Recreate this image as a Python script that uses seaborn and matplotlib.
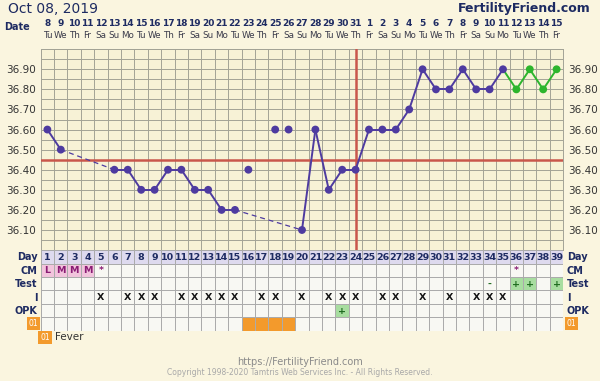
import numpy as np
import pandas as pd
import seaborn as sns
import matplotlib.pyplot as plt
from matplotlib.colors import ListedColormap

# cycle data (day 1 = Oct 8, 2019)
dates = pd.date_range("2019-10-08", periods=39)
date_nums = [str(d.day) for d in dates]
weekdays = [d.strftime("%a")[:2] for d in dates]
days = list(range(1, 40))

temps = [36.60, 36.50, None, None, None, 36.40, 36.40, 36.30, 36.30, 36.40,
         36.40, 36.30, 36.30, 36.20, 36.20, 36.40, None, 36.60, 36.60, 36.10,
         36.60, 36.30, 36.40, 36.40, 36.60, 36.60, 36.60, 36.70, 36.90, 36.80,
         36.80, 36.90, 36.80, 36.80, 36.90, 36.80, 36.90, 36.80, 36.90]
discarded = [16, 18, 19]
first_green = 36
cover_line = 36.45
ovulation_day = 24

cm = {1: "L", 2: "M", 3: "M", 4: "M", 5: "*", 36: "*"}
test = {34: "-", 36: "+", 37: "+", 39: "+"}
intercourse = [5, 7, 8, 9, 11, 12, 13, 14, 15, 17, 18, 20, 22, 23, 24, 26, 27,
               29, 31, 33, 34, 35]
opk = {23: "+"}
fever = [16, 17, 18, 19]
row_labels = ["Day", "CM", "Test", "I", "OPK"]

bg = "#FAF5DF"
navy = "#1E2B62"
purple = "#4E3BA0"
green = "#2DB52D"
red = "#C9574C"

sns.set_theme(style="white")
plt.rcParams["font.family"] = ["DejaVu Sans"]

fig = plt.figure(figsize=(6, 3.81), dpi=100, facecolor=bg)

# ---- temperature chart ----
ax = fig.add_axes([0.0678, 0.3436, 0.8710, 0.5273])
ax.set_facecolor("#F7F2D6")
ax.set_xlim(0.5, 39.5)
ax.set_ylim(36.0, 37.0)
ax.set_xticks(np.arange(0.5, 40, 1))
ax.set_yticks(np.arange(36.1, 36.95, 0.1))
ax.set_yticks(np.arange(36.0, 37.01, 0.05), minor=True)
ax.set_yticklabels([f"{v:.2f}" for v in np.arange(36.1, 36.95, 0.1)])
ax.tick_params(axis="x", length=0, labelbottom=False)
ax.tick_params(axis="y", which="both", length=0, labelleft=True, labelright=True,
               labelsize=7.5, labelcolor="#333333", pad=3.5)
ax.grid(True, which="both", color="#A3A396", lw=0.7)
for s in ax.spines.values():
    s.set_color("#A3A396")
    s.set_linewidth(0.7)

ax.axhline(cover_line, color=red, lw=1.8, zorder=3)
ax.axvline(ovulation_day, color=red, lw=1.8, zorder=3)

# line segments between kept temps
kept = [(d, t) for d, t in zip(days, temps) if t is not None and d not in discarded]
rows = []
for k, ((a, ta), (b, tb)) in enumerate(zip(kept[:-1], kept[1:])):
    kind = "green" if b >= first_green else ("solid" if b == a + 1 else "dash")
    rows += [(a, ta, k, kind), (b, tb, k, kind)]
seg = pd.DataFrame(rows, columns=["day", "temp", "seg", "kind"])

sns.lineplot(data=seg[seg.kind == "solid"], x="day", y="temp", units="seg",
             estimator=None, color=purple, lw=1.4, ax=ax, zorder=4)
sns.lineplot(data=seg[seg.kind == "dash"], x="day", y="temp", units="seg",
             estimator=None, color=purple, lw=0.9, linestyle=(0, (4, 3)), ax=ax, zorder=4)
sns.lineplot(data=seg[seg.kind == "green"], x="day", y="temp", units="seg",
             estimator=None, color=green, lw=1.4, ax=ax, zorder=4)

pts = pd.DataFrame({"day": days, "temp": temps}).dropna()
sns.scatterplot(data=pts[pts.day < first_green], x="day", y="temp", color=purple,
                s=32, edgecolor="none", ax=ax, zorder=5)
sns.scatterplot(data=pts[pts.day >= first_green], x="day", y="temp", color=green,
                s=32, edgecolor="none", ax=ax, zorder=5)
ax.set_xlabel("")
ax.set_ylabel("")

# date header
for d, num, wd in zip(days, date_nums, weekdays):
    ax.text(d, 1.128, num, transform=ax.get_xaxis_transform(), ha="center",
            va="center", fontsize=6.5, fontweight="bold", color=navy)
    ax.text(d, 1.068, wd, transform=ax.get_xaxis_transform(), ha="center",
            va="center", fontsize=6.3, color="#3A3A4A")
ax.text(-0.3, 1.11, "Date", transform=ax.get_xaxis_transform(), ha="right",
        va="center", fontsize=7, fontweight="bold", color=navy)

# ---- bottom table ----
codes = np.zeros((6, 39))
codes[0, :] = 1
labels = [[""] * 39 for _ in range(6)]
for d in days:
    labels[0][d - 1] = str(d)
for d, v in cm.items():
    labels[1][d - 1] = v
    if v in "LM":
        codes[1, d - 1] = 2
for d, v in test.items():
    labels[2][d - 1] = v
    if v == "+":
        codes[2, d - 1] = 3
for d in intercourse:
    labels[3][d - 1] = "X"
for d, v in opk.items():
    labels[4][d - 1] = v
    codes[4, d - 1] = 3
for d in fever:
    codes[5, d - 1] = 4

ax2 = fig.add_axes([0.0678, 0.1325, 0.8710, 0.2110])
cmap = ListedColormap(["#F8F8F3", "#DEDAEE", "#F2C4DC", "#A8DDA0", "#F39A2C"])
sns.heatmap(codes, ax=ax2, cmap=cmap, vmin=-0.5, vmax=4.5, cbar=False,
            linewidths=0.6, linecolor="#ABABAB", xticklabels=False, yticklabels=False)

text_style = {0: (navy, "bold"), 1: ("#8A1C74", "bold"), 2: ("#1D6A1D", "bold"),
              3: ("#151515", "bold"), 4: ("#1D6A1D", "bold")}
for i in range(5):
    col, wt = text_style[i]
    for j in range(39):
        if labels[i][j]:
            ax2.text(j + 0.5, i + 0.55, labels[i][j], ha="center", va="center",
                     fontsize=6.8, fontweight=wt, color=col)
    ax2.text(-0.25, i + 0.55, row_labels[i], ha="right", va="center",
             fontsize=7, fontweight="bold", color=navy)
    ax2.text(39.25, i + 0.55, row_labels[i], ha="left", va="center",
             fontsize=7, fontweight="bold", color=navy)

box = dict(boxstyle="square,pad=0.25", fc="#F39A2C", ec="none")
ax2.text(-0.55, 5.5, "01", ha="center", va="center", fontsize=5.5,
         color="white", bbox=box)
ax2.text(39.6, 5.5, "01", ha="center", va="center", fontsize=5.5,
         color="white", bbox=box)

# fever legend
fig.text(0.075, 0.115, "01", ha="center", va="center", fontsize=5.5,
         color="white", bbox=box)
fig.text(0.091, 0.115, "Fever", ha="left", va="center", fontsize=7.5, color="#333333")

# titles / footer
fig.text(0.013, 0.977, "Oct 08, 2019", ha="left", va="center", fontsize=10,
         color=navy)
fig.text(0.985, 0.977, "FertilityFriend.com", ha="right", va="center",
         fontsize=9, fontweight="bold", color=navy)
fig.text(0.5, 0.05, "https://FertilityFriend.com", ha="center", va="center",
         fontsize=7, color="#8A8A8A")
fig.text(0.5, 0.022, "Copyright 1998-2020 Tamtris Web Services Inc. - All Rights Reserved.",
         ha="center", va="center", fontsize=5.5, color="#A8A8A8")

fig.savefig("out.png", dpi=100, facecolor=bg)
